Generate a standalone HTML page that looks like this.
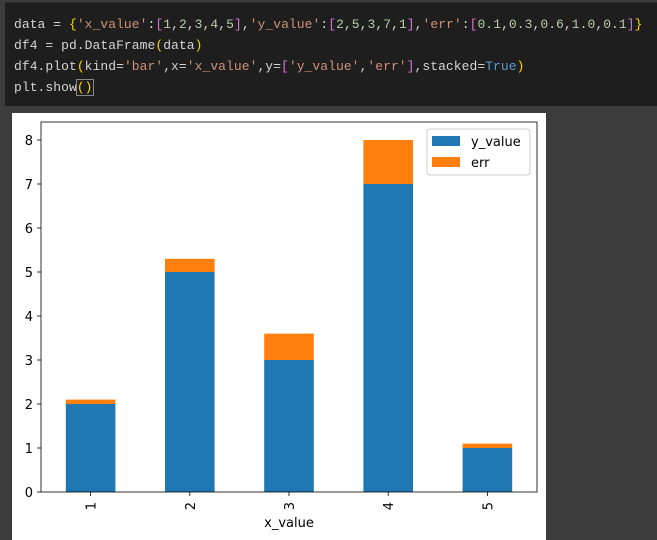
<!DOCTYPE html>
<html><head><meta charset="utf-8"><style>
body{margin:0;width:657px;height:540px;background:#3c3c3c;overflow:hidden;position:relative;font-family:"DejaVu Sans","Liberation Sans",sans-serif}
#code{position:absolute;left:5px;top:2px;width:652px;height:103px;background:#1e1e1e;border-top:1px solid #2a2a2a}
.ln{position:absolute;left:9px;font-family:"Liberation Mono",monospace;font-size:13px;letter-spacing:0.05px;line-height:15px;color:#d4d4d4;white-space:pre}
.s{color:#ce9178}.b{color:#da70d6}.y{color:#ffd700}.n{color:#b5cea8}.k{color:#569cd6}
#fig{position:absolute;left:12px;top:113px;width:534px;height:427px;background:#fff}
</style></head><body>
<div id="code">
<div class="ln" style="top:14px">data = <span class="y">{</span><span class="s">'x_value'</span>:<span class="b">[</span><span class="n">1</span>,<span class="n">2</span>,<span class="n">3</span>,<span class="n">4</span>,<span class="n">5</span><span class="b">]</span>,<span class="s">'y_value'</span>:<span class="b">[</span><span class="n">2</span>,<span class="n">5</span>,<span class="n">3</span>,<span class="n">7</span>,<span class="n">1</span><span class="b">]</span>,<span class="s">'err'</span>:<span class="b">[</span><span class="n">0.1</span>,<span class="n">0.3</span>,<span class="n">0.6</span>,<span class="n">1.0</span>,<span class="n">0.1</span><span class="b">]</span><span class="y">}</span></div>
<div class="ln" style="top:35px">df4 = pd.DataFrame<span class="y">(</span>data<span class="y">)</span></div>
<div class="ln" style="top:56px">df4.plot<span class="y">(</span>kind=<span class="s">'bar'</span>,x=<span class="s">'x_value'</span>,y=<span class="b">[</span><span class="s">'y_value'</span>,<span class="s">'err'</span><span class="b">]</span>,stacked=<span class="k">True</span><span class="y">)</span></div>
<div class="ln" style="top:77px">plt.show<span class="y" style="outline:1px solid #888">()</span></div>
</div>
<div id="fig"></div>
<svg id="svg" width="657" height="540" style="position:absolute;left:0;top:0"></svg>
<script>
const categories=['1','2','3','4','5'];
const yValues=[2,5,3,7,1];
const errValues=[0.1,0.3,0.6,1.0,0.1];
const yTicks=[0,1,2,3,4,5,6,7,8];
const L=41,R=537,T=122,B=492;
const yS=v=>B-v*44;
const step=(R-L)/categories.length;
const xS=i=>L+step*(i+0.5);
const svg=document.getElementById('svg');
const NS='http://www.w3.org/2000/svg';
function mk(t,a){const e=document.createElementNS(NS,t);for(const k in a)e.setAttribute(k,a[k]);svg.appendChild(e);return e;}
const bw=step*0.5;
categories.forEach((c,i)=>{
  const b1=mk('rect',{x:xS(i)-bw/2,y:yS(yValues[i]),width:bw,height:B-yS(yValues[i]),fill:'#1f77b4'});
  
  
  const top=yValues[i]+errValues[i];
  const b2=mk('rect',{x:xS(i)-bw/2,y:yS(top),width:bw,height:yS(yValues[i])-yS(top),fill:'#ff7f0e'});
  
  
  const tk=mk('line',{x1:xS(i),x2:xS(i),y1:B,y2:B+4,stroke:'#000','stroke-width':0.8});
  
  
  const tl=mk('text',{x:0,y:0,transform:`translate(${xS(i)+5},${B+10}) rotate(-90)`,'text-anchor':'end','font-size':13,fill:'#000'});
  tl.textContent=c;
  
  
});
yTicks.forEach(v=>{
  const tk=mk('line',{x1:L-4,x2:L,y1:yS(v),y2:yS(v),stroke:'#000','stroke-width':0.8});
  
  
  const tl=mk('text',{x:L-8,y:yS(v)+5,'text-anchor':'end','font-size':13,fill:'#000'});
  tl.textContent=v;
  
  
});
const fr=mk('rect',{x:L,y:T,width:R-L,height:B-T,fill:'none',stroke:'#000','stroke-width':0.8});


const xt=mk('text',{x:(L+R)/2,y:527,'text-anchor':'middle','font-size':13,fill:'#000'});
xt.textContent='x_value';


const lg=mk('rect',{x:427,y:129,width:103,height:46,fill:'#fff',stroke:'#ccc','stroke-width':1,rx:3});


[['y_value','#1f77b4',141],['err','#ff7f0e',162]].forEach(([n,c,y])=>{
  const s=mk('rect',{x:432,y:y-5,width:28,height:10,fill:c});
  
  
  const t=mk('text',{x:471,y:y+5,'font-size':13,fill:'#000'});
  t.textContent=n;
  
  
});
</script>
</body></html>
